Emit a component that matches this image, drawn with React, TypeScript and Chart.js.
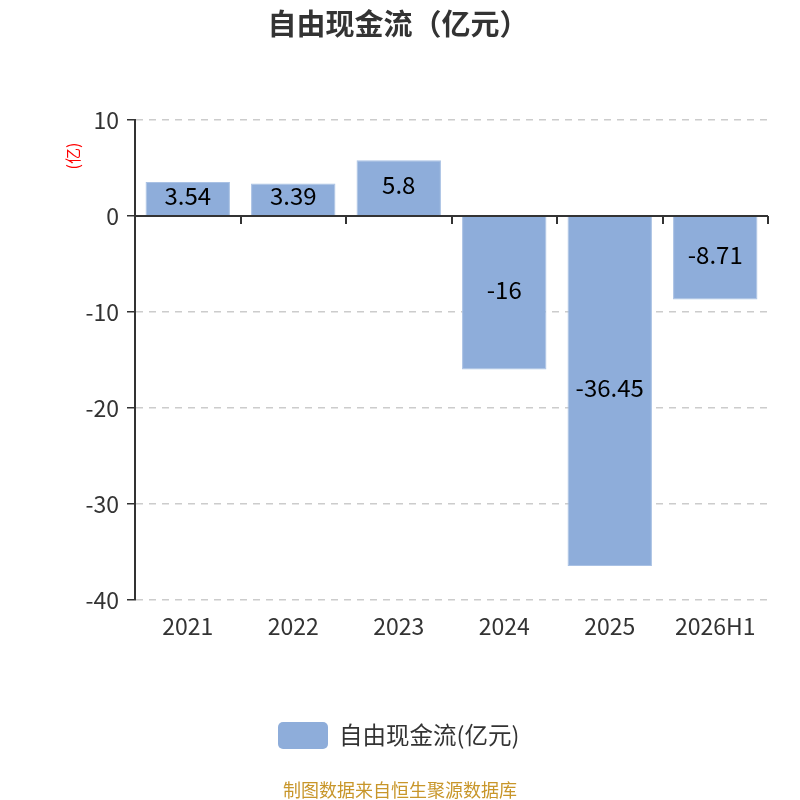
import { useEffect, useRef } from 'react'
import { Chart, registerables } from 'chart.js'

Chart.register(...registerables)

const CATEGORIES = ['2021', '2022', '2023', '2024', '2025', '2026H1']
const FREE_CASH_FLOW = [3.54, 3.39, 5.8, -16, -36.45, -8.71]
const Y_MIN = -40
const Y_MAX = 10
const Y_STEP = 10

const TITLE = '自由现金流（亿元）'
const SERIES_NAME = '自由现金流(亿元)'
const UNIT_LABEL = '(亿)'
const SOURCE = '制图数据来自恒生聚源数据库'

const FONT = '"Noto Sans CJK SC", "Noto Sans", sans-serif'
const BAR_COLOR = '#8eadda'
const TEXT_COLOR = '#333333'

// zero line + category ticks, value labels, title, legend and footer
const decorPlugin = {
  id: 'decor',
  afterDatasetsDraw(chart: any) {
    const { ctx, chartArea, scales } = chart
    const y0 = scales.y.getPixelForValue(0)

    ctx.save()
    ctx.strokeStyle = TEXT_COLOR
    ctx.lineWidth = 2
    ctx.beginPath()
    ctx.moveTo(chartArea.left, y0)
    ctx.lineTo(chartArea.right, y0)
    const n = CATEGORIES.length
    const w = (chartArea.right - chartArea.left) / n
    for (let i = 0; i <= n; i++) {
      const x = Math.round(chartArea.left + i * w)
      ctx.moveTo(x, y0)
      ctx.lineTo(x, y0 + 8)
    }
    ctx.stroke()

    ctx.fillStyle = '#000'
    ctx.font = `24px ${FONT}`
    ctx.textAlign = 'center'
    ctx.textBaseline = 'middle'
    chart.getDatasetMeta(0).data.forEach((bar: any, i: number) => {
      ctx.fillText(String(FREE_CASH_FLOW[i]), bar.x, (bar.y + bar.base) / 2 - 3)
    })
    ctx.restore()
  },
  afterDraw(chart: any) {
    const { ctx } = chart
    ctx.save()
    ctx.textBaseline = 'middle'

    ctx.fillStyle = TEXT_COLOR
    ctx.font = `bold 29px ${FONT}`
    ctx.textAlign = 'center'
    ctx.fillText(TITLE, 398, 24)

    ctx.save()
    ctx.translate(73, 156)
    ctx.rotate(-Math.PI / 2)
    ctx.fillStyle = '#ff0000'
    ctx.font = `16px ${FONT}`
    ctx.fillText(UNIT_LABEL, 0, 0)
    ctx.restore()

    ctx.fillStyle = BAR_COLOR
    ctx.beginPath()
    ctx.roundRect(278, 722, 50, 27, 5)
    ctx.fill()
    ctx.fillStyle = TEXT_COLOR
    ctx.font = `23.5px ${FONT}`
    ctx.textAlign = 'left'
    ctx.fillText(SERIES_NAME, 339, 735)

    ctx.fillStyle = '#c8962a'
    ctx.font = `18px ${FONT}`
    ctx.textAlign = 'center'
    ctx.fillText(SOURCE, 400, 790)
    ctx.restore()
  },
}

export default function App() {
  const canvasRef = useRef<HTMLCanvasElement>(null)
  const chartRef = useRef<Chart | null>(null)

  useEffect(() => {
    document.body.style.margin = '0'
    if (!canvasRef.current) return
    if (chartRef.current) chartRef.current.destroy()

    chartRef.current = new Chart(canvasRef.current, {
      type: 'bar',
      data: {
        labels: CATEGORIES,
        datasets: [{
          label: SERIES_NAME,
          data: FREE_CASH_FLOW,
          backgroundColor: BAR_COLOR,
          borderColor: '#a9c1e4',
          borderWidth: 1,
          barPercentage: 0.8,
          categoryPercentage: 1,
        }],
      },
      options: {
        responsive: true,
        maintainAspectRatio: false,
        animation: false,
        layout: { padding: { top: 120, left: 0, right: 32, bottom: 140 } },
        plugins: {
          legend: { display: false },
          title: { display: false },
          tooltip: { enabled: false },
        },
        scales: {
          x: {
            grid: { display: false, drawTicks: false },
            border: { display: false },
            ticks: { color: TEXT_COLOR, font: { size: 23, family: FONT }, padding: 12 },
            afterFit: (scale: any) => { scale.height = 60 },
          },
          y: {
            min: Y_MIN,
            max: Y_MAX,
            ticks: { stepSize: Y_STEP, color: TEXT_COLOR, font: { size: 23, family: FONT }, padding: 8 },
            grid: { color: '#cccccc', tickColor: TEXT_COLOR, tickLength: 8, lineWidth: 1.5 },
            border: { display: true, color: TEXT_COLOR, width: 2, dash: [7, 6] },
            afterFit: (scale: any) => { scale.width = 135 },
          },
        },
      },
      plugins: [decorPlugin],
    })
    return () => { chartRef.current?.destroy() }
  }, [])

  return (
    <div style={{ position: 'relative', width: 800, height: 800 }}>
      <canvas ref={canvasRef} />
    </div>
  )
}
